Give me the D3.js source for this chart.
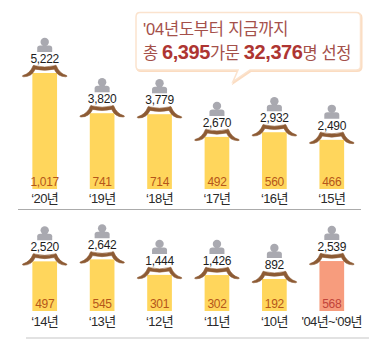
<!DOCTYPE html>
<html>
<head>
<meta charset="utf-8">
<script src="https://cdn.jsdelivr.net/npm/d3@7"></script>
<style>
  html, body { margin: 0; padding: 0; background: #fff; }
  text { font-family: "Liberation Sans", "Noto Sans CJK KR", sans-serif; }
</style>
</head>
<body>
<svg id="chart" width="390" height="356"></svg>
<script>
const yearsTop = ["‘20년", "‘19년", "‘18년", "‘17년", "‘16년", "‘15년"];
const peopleTop = [5222, 3820, 3779, 2670, 2932, 2490];
const housesTop = [1017, 741, 714, 492, 560, 466];

const yearsBottom = ["‘14년", "‘13년", "‘12년", "‘11년", "‘10년", "'04년~‘09년"];
const peopleBottom = [2520, 2642, 1444, 1426, 892, 2539];
const housesBottom = [497, 545, 301, 302, 192, 568];

const svg = d3.select("#chart");
const fmt = d3.format(",");

const heightScale = d3.scalePow().exponent(2).domain([0, 5222]).range([29.5, 116]);

function drawRow(years, people, houses, baseY, valueY, yearY) {
  const x = d3.scaleBand().domain(years).range([16, 360.5]).paddingInner(0.57).paddingOuter(0.285);
  const g = svg.append("g");

  years.forEach((year, i) => {
    const cx = x(year) + x.bandwidth() / 2;
    const top = baseY - heightScale(people[i]);
    const isRange = year.includes("~");

    g.append("rect")
      .attr("x", x(year))
      .attr("y", top)
      .attr("width", x.bandwidth())
      .attr("height", baseY - top)
      .attr("fill", isRange ? "#f79c7d" : "#ffd65c");

    // roof, filled so the eaves can taper
    g.append("path")
      .attr("d", "M-22,2.6 Q-14.5,0.5 -11.5,-7.5 Q-10.5,-8 -9.5,-7.2 Q0,-4.8 9.5,-7.2 Q10.5,-8 11.5,-7.5 Q14.5,0.5 22,2.6 Q23,3.6 21,3.8 Q13,3.8 9.5,-3.8 Q0,-1.6 -9.5,-3.8 Q-13,3.8 -21,3.8 Q-23,3.6 -22,2.6 Z")
      .attr("transform", `translate(${cx},${top})`)
      .attr("fill", "#8d5b34")
      .attr("stroke", "#8d5b34")
      .attr("stroke-width", 0.6);

    // person icon
    const icon = g.append("g").attr("transform", `translate(${cx},${top})`).attr("fill", "#a9a9b0");
    icon.append("circle").attr("cy", -31).attr("r", 4.2);
    icon.append("path").attr("d", "M-7.5,-21 V-25 Q-7.5,-27.5 -4.5,-27.5 H4.5 Q7.5,-27.5 7.5,-25 V-21 Z");

    g.append("text")
      .attr("x", cx)
      .attr("y", top - 14.5)
      .attr("dy", "0.36em")
      .attr("text-anchor", "middle")
      .attr("font-size", 12)
      .attr("letter-spacing", -0.3)
      .attr("fill", "#1c1c1c")
      .text(fmt(people[i]));

    g.append("text")
      .attr("x", cx)
      .attr("y", valueY)
      .attr("dy", "0.36em")
      .attr("text-anchor", "middle")
      .attr("font-size", 12)
      .attr("letter-spacing", -0.3)
      .attr("fill", isRange ? "#c2433a" : "#b5561a")
      .text(fmt(houses[i]));

    g.append("text")
      .attr("x", cx)
      .attr("y", yearY)
      .attr("dy", "0.36em")
      .attr("text-anchor", "middle")
      .attr("font-size", 13)
      .attr("letter-spacing", -0.6)
      .attr("fill", "#2a2a2a")
      .text(year);
  });
}

drawRow(yearsTop, peopleTop, housesTop, 189, 182, 198.5);
drawRow(yearsBottom, peopleBottom, housesBottom, 311, 303.5, 321);

svg.append("line").attr("x1", 18).attr("x2", 361).attr("y1", 209.5).attr("y2", 209.5)
  .attr("stroke", "#ababab").attr("stroke-width", 1);
svg.append("line").attr("x1", 26).attr("x2", 369).attr("y1", 338).attr("y2", 338)
  .attr("stroke", "#d9d9d9").attr("stroke-width", 1.5);

// callout, drawn twice for the heavier bottom and right edge
const calloutPath = "M140,12.5 H356 Q360.5,12.5 360.5,17 V66 Q360.5,70 356,70 H250 L233,81.5 L238,70 H140 Q136,70 136,66 V17 Q136,12.5 140,12.5 Z";
svg.append("path")
  .attr("d", calloutPath)
  .attr("transform", "translate(1,1)")
  .attr("fill", "#fbdcc1")
  .attr("stroke", "#fbdcc1")
  .attr("stroke-width", 2);
svg.append("path")
  .attr("d", calloutPath)
  .attr("fill", "#fff")
  .attr("stroke", "#fbe3ce")
  .attr("stroke-width", 1.5);

const line1 = svg.append("text").attr("x", 143).attr("y", 35).attr("font-size", 16.5)
  .attr("letter-spacing", -0.2).attr("fill", "#a4504a");
line1.text("'04년도부터 지금까지");

const line2 = svg.append("text").attr("x", 143).attr("y", 59).attr("font-size", 16.5)
  .attr("letter-spacing", -0.4).attr("fill", "#a4504a");
line2.append("tspan").text("총 ");
line2.append("tspan").attr("font-weight", "bold").attr("font-size", 20).attr("fill", "#ae3532").text("6,395");
line2.append("tspan").text("가문 ");
line2.append("tspan").attr("font-weight", "bold").attr("font-size", 20).attr("fill", "#ae3532").text("32,376");
line2.append("tspan").text("명 선정");
</script>
</body>
</html>
